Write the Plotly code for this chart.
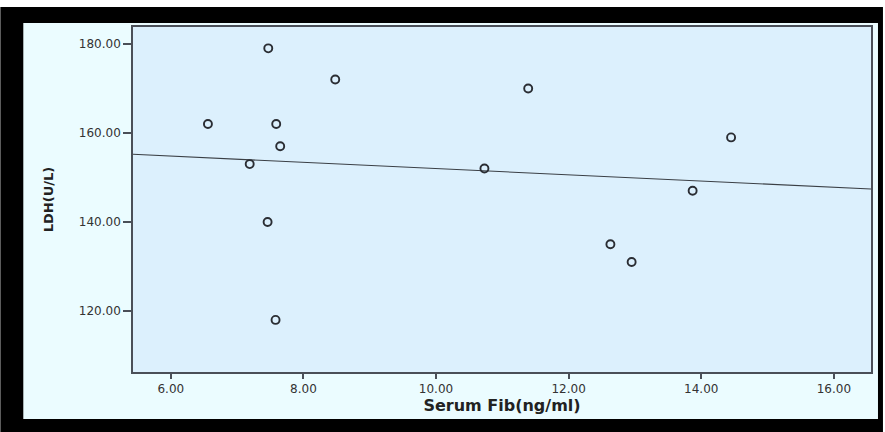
import plotly.graph_objects as go

# Data
fib = [7.47, 8.48, 6.56, 7.59, 7.65, 7.19, 11.39, 10.73, 14.45, 13.87, 7.46, 12.63, 12.95, 7.58]
ldh = [179, 172, 162, 162, 157, 153, 170, 152, 159, 147, 140, 135, 131, 118]
fit_x = [5.43, 16.56]
fit_y = [155.2, 147.4]
x_ticks = [6, 8, 10, 12, 14, 16]
y_ticks = [120, 140, 160, 180]

W, H = 885, 432
L, R, T, B = 133, 873, 27, 372


def px(x):
    return (x - L) / (R - L)


def py(y):
    return (B - y) / (B - T)


fig = go.Figure()
fig.add_trace(go.Scatter(x=fit_x, y=fit_y, mode="lines",
                         line=dict(color="#3a3f45", width=1.1),
                         showlegend=False, hoverinfo="skip"))
fig.add_trace(go.Scatter(x=fib, y=ldh, mode="markers",
                         marker=dict(symbol="circle-open", size=8, color="#2a2d33",
                                     line=dict(color="#2a2d33", width=1.9)),
                         showlegend=False))

font = "DejaVu Sans, Arial, sans-serif"
fig.update_layout(
    width=W, height=H,
    margin=dict(l=L, r=W - R, t=T, b=H - B, pad=0),
    paper_bgcolor="white",
    plot_bgcolor="rgba(0,0,0,0)",
    font=dict(family=font, size=12, color="#333"),
    shapes=[
        dict(type="rect", xref="paper", yref="paper", layer="below",
             x0=px(0), x1=px(W), y0=py(7), y1=py(H),
             fillcolor="black", line=dict(width=0)),
        dict(type="rect", xref="paper", yref="paper", layer="below",
             x0=px(23), x1=px(880), y0=py(23), y1=py(419),
             fillcolor="#EBFCFF", line=dict(width=0)),
        dict(type="rect", xref="paper", yref="paper", layer="below",
             x0=0, x1=1, y0=0, y1=1,
             fillcolor="#DCF0FD", line=dict(width=0)),
    ],
    xaxis=dict(range=[5.43, 16.56], tickvals=x_ticks, tickformat=".2f",
               showgrid=False, zeroline=False, showline=True, mirror=True,
               linecolor="#4a4f58", linewidth=1.5,
               ticks="outside", ticklen=5, tickcolor="#4a4f58", tickwidth=1.5,
               tickfont=dict(family=font, size=12, color="#333"),
               title=dict(text="<b>Serum Fib(ng/ml)</b>", standoff=3,
                          font=dict(family=font, size=16, color="#222"))),
    yaxis=dict(range=[106.3, 183.8], tickvals=y_ticks, tickformat=".2f",
               showgrid=False, zeroline=False, showline=True, mirror=True,
               linecolor="#4a4f58", linewidth=1.5,
               ticks="outside", ticklen=8, tickcolor="#4a4f58", tickwidth=1.5,
               tickfont=dict(family=font, size=12, color="#333"),
               title=dict(text="<b>LDH(U/L)</b>", standoff=22,
                          font=dict(family=font, size=13, color="#222"))),
)

fig.write_html("out.html")
